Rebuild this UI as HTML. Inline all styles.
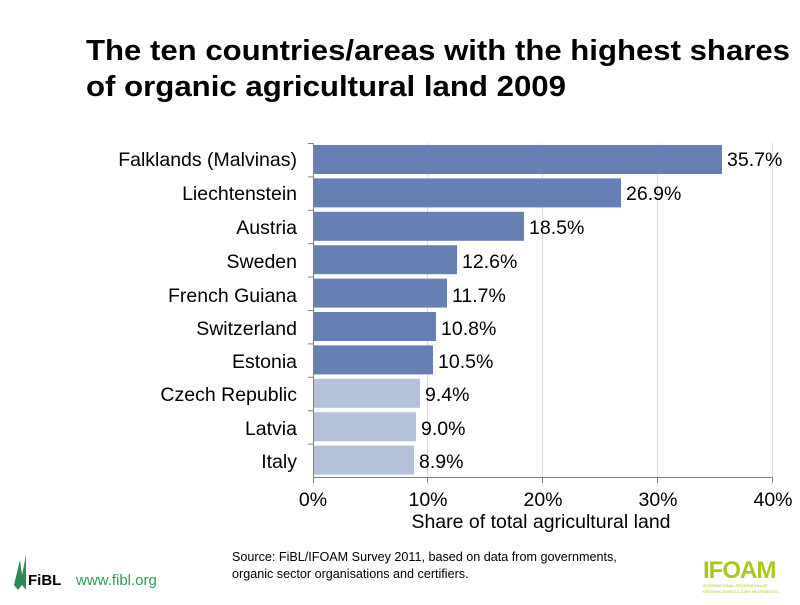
<!DOCTYPE html>
<html><head><meta charset="utf-8"><style>
body{margin:0;width:800px;height:600px;background:#fff;font-family:"Liberation Sans",sans-serif;overflow:hidden}
</style></head><body>
<svg width="800" height="600" xmlns="http://www.w3.org/2000/svg" font-family="Liberation Sans, sans-serif">
<text x="86" y="60" font-size="29" font-weight="bold" fill="#000" textLength="704" lengthAdjust="spacingAndGlyphs">The ten countries/areas with the highest shares</text>
<text x="86" y="96" font-size="29" font-weight="bold" fill="#000" textLength="480" lengthAdjust="spacingAndGlyphs">of organic agricultural land 2009</text>
<g stroke="#d9d9d9" stroke-width="1">
<line x1="427.5" y1="143" x2="427.5" y2="477"/>
<line x1="542.5" y1="143" x2="542.5" y2="477"/>
<line x1="657.5" y1="143" x2="657.5" y2="477"/>
<line x1="772.5" y1="143" x2="772.5" y2="477"/>
</g>
<g fill="#6680b3">
<rect x="313" y="145" width="409" height="29"/>
<rect x="313" y="178.4" width="308" height="29"/>
<rect x="313" y="211.8" width="211" height="29"/>
<rect x="313" y="245.2" width="144" height="29"/>
<rect x="313" y="278.6" width="134" height="29"/>
<rect x="313" y="312" width="123" height="29"/>
<rect x="313" y="345.4" width="120" height="29"/>
</g>
<g fill="#b3c1db">
<rect x="313" y="378.8" width="107" height="29"/>
<rect x="313" y="412.2" width="103" height="29"/>
<rect x="313" y="445.6" width="101" height="29"/>
</g>
<g stroke="#808080" stroke-width="1">
<line x1="313.5" y1="143" x2="313.5" y2="477"/>
<line x1="313" y1="477.5" x2="773" y2="477.5"/>
<line x1="308" y1="143.5" x2="313" y2="143.5"/>
<line x1="308" y1="176.9" x2="313" y2="176.9"/>
<line x1="308" y1="210.3" x2="313" y2="210.3"/>
<line x1="308" y1="243.7" x2="313" y2="243.7"/>
<line x1="308" y1="277.1" x2="313" y2="277.1"/>
<line x1="308" y1="310.5" x2="313" y2="310.5"/>
<line x1="308" y1="343.9" x2="313" y2="343.9"/>
<line x1="308" y1="377.3" x2="313" y2="377.3"/>
<line x1="308" y1="410.7" x2="313" y2="410.7"/>
<line x1="308" y1="444.1" x2="313" y2="444.1"/>
<line x1="313.5" y1="477" x2="313.5" y2="483"/>
<line x1="427.5" y1="477" x2="427.5" y2="483"/>
<line x1="542.5" y1="477" x2="542.5" y2="483"/>
<line x1="657.5" y1="477" x2="657.5" y2="483"/>
<line x1="772.5" y1="477" x2="772.5" y2="483"/>
</g>
<g font-size="19.5" fill="#000" text-anchor="end">
<text x="297" y="166">Falklands (Malvinas)</text>
<text x="297" y="200">Liechtenstein</text>
<text x="297" y="234">Austria</text>
<text x="297" y="268">Sweden</text>
<text x="297" y="302">French Guiana</text>
<text x="297" y="335">Switzerland</text>
<text x="297" y="368">Estonia</text>
<text x="297" y="401">Czech Republic</text>
<text x="297" y="435">Latvia</text>
<text x="297" y="468">Italy</text>
</g>
<g font-size="19.5" fill="#000">
<text x="727" y="166">35.7%</text>
<text x="626" y="200">26.9%</text>
<text x="529" y="234">18.5%</text>
<text x="462" y="268">12.6%</text>
<text x="452" y="302">11.7%</text>
<text x="441" y="335">10.8%</text>
<text x="438" y="368">10.5%</text>
<text x="425" y="401">9.4%</text>
<text x="421" y="435">9.0%</text>
<text x="419" y="468">8.9%</text>
</g>
<g font-size="19.5" fill="#000" text-anchor="middle">
<text x="313" y="506">0%</text>
<text x="428" y="506">10%</text>
<text x="543" y="506">20%</text>
<text x="658" y="506">30%</text>
<text x="773" y="506">40%</text>
<text x="541" y="528">Share of total agricultural land</text>
</g>
<text x="232" y="561" font-size="12.6" fill="#000">Source: FiBL/IFOAM Survey 2011, based on data from governments,</text>
<text x="232" y="578" font-size="12.6" fill="#000">organic sector organisations and certifiers.</text>
<g fill="#2e8b57">
<path d="M14 585 L20 560 L22 575 L26 555 L26 590 L22 585 L18 590 Z"/>
</g>
<text x="28" y="585" font-size="15" font-weight="bold" fill="#000">FiBL</text>
<text x="76" y="585" font-size="15" fill="#2e9e5a">www.fibl.org</text>
<text x="703" y="578" font-size="24" font-weight="bold" fill="#a8c81e" letter-spacing="-1">IFOAM</text>
<text x="703" y="587" font-size="4" fill="#a8c81e">INTERNATIONAL FEDERATION OF</text>
<text x="703" y="593" font-size="4" fill="#a8c81e">ORGANIC AGRICULTURE MOVEMENTS</text>
</svg>
</body></html>
